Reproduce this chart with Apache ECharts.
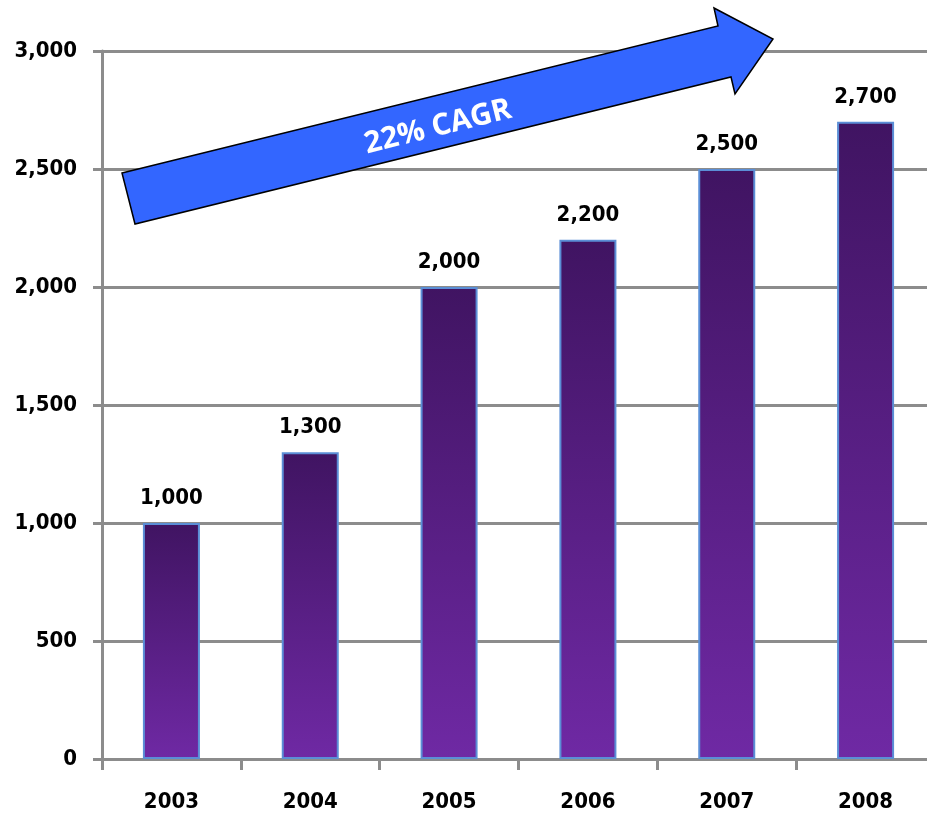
<!DOCTYPE html>
<html>
<head>
<meta charset="utf-8">
<script src="https://cdn.jsdelivr.net/npm/echarts@6/dist/echarts.min.js"></script>
<style>
  html, body { margin: 0; padding: 0; background: #fff; overflow: hidden; }
  /* a bit wider than the window: the plot is cut at the right edge in the original */
  #chart { width: 935px; height: 814px; }
</style>
</head>
<body>
<div id="chart"></div>
<script>
// data
var years = ['2003', '2004', '2005', '2006', '2007', '2008'];
var values = [1000, 1300, 2000, 2200, 2500, 2700];
var yTicks = [0, 500, 1000, 1500, 2000, 2500, 3000];

var gray = '#8c8c8c';
var font = '"DejaVu Sans Condensed", "DejaVu Sans", sans-serif';

var chart = echarts.init(document.getElementById('chart'));

function fmt(v) {
  return v.toLocaleString('en-US');
}

var option = {
  animation: false,
  grid: { left: 102, right: 0, top: 51, bottom: 55 },
  xAxis: {
    type: 'category',
    data: years,
    axisLine: { lineStyle: { color: gray, width: 3 } },
    axisTick: { show: true, length: 11, lineStyle: { color: gray, width: 3 } },
    axisLabel: { color: '#000', fontFamily: font, fontWeight: 'bold', fontSize: 22, margin: 32 }
  },
  yAxis: {
    type: 'value',
    min: yTicks[0],
    max: yTicks[yTicks.length - 1],
    interval: 500,
    axisLine: { show: true, lineStyle: { color: gray, width: 3 } },
    axisTick: { show: true, length: 9, lineStyle: { color: gray, width: 3 } },
    splitLine: { lineStyle: { color: gray, width: 3 } },
    axisLabel: { color: '#000', fontFamily: font, fontWeight: 'bold', fontSize: 22, margin: 25, formatter: fmt }
  },
  series: [{
    type: 'bar',
    data: values,
    barWidth: 57,
    itemStyle: {
      color: new echarts.graphic.LinearGradient(0, 0, 0, 1, [
        { offset: 0, color: '#401462' },
        { offset: 1, color: '#6f29a4' }
      ]),
      borderColor: '#5b8ed6',
      borderWidth: 2
    },
    label: {
      show: true,
      position: 'top',
      distance: 14,
      color: '#000',
      fontFamily: font,
      fontWeight: 'bold',
      fontSize: 22,
      formatter: function (p) { return fmt(p.value); }
    }
  }],
  graphic: [
    {
      type: 'polygon',
      z: 100,
      shape: {
        points: [[122, 173], [718, 26], [714, 8], [773, 39], [735, 94], [731, 77], [135, 224]]
      },
      style: { fill: '#3366ff', stroke: '#000', lineWidth: 1.5 }
    },
    {
      type: 'text',
      z: 101,
      x: 438,
      y: 127,
      rotation: 0.244,
      style: {
        text: '22% CAGR',
        fill: '#fff',
        font: 'bold 30px "Open Sans", sans-serif',
        align: 'center',
        verticalAlign: 'middle'
      }
    }
  ]
};

chart.setOption(option);
</script>
</body>
</html>
